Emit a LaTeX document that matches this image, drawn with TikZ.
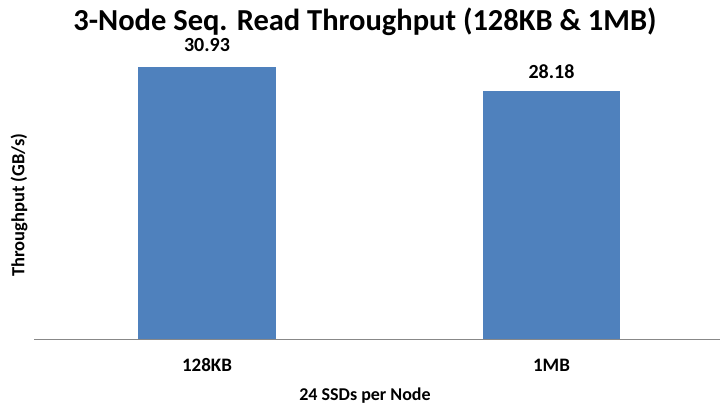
\documentclass[tikz,border=0pt]{standalone}
\usepackage{fontspec}
\setmainfont{Carlito}
\usepackage{xcolor}
\usetikzlibrary{positioning}
\definecolor{barblue}{HTML}{4F81BD}
\definecolor{axisgray}{HTML}{888888}

\begin{document}
\begin{tikzpicture}[x=1pt,y=1pt]
		\tikzset{bar/.style={fill=barblue}}
		\tikzset{val/.style={font=\bfseries\fontsize{20}{24}\selectfont,inner sep=0pt}}
		\tikzset{lab/.style={font=\bfseries\fontsize{19}{23}\selectfont,inner sep=0pt}}
		\useasboundingbox (0,0) rectangle (720,406);
		\coordinate (O) at (34,66.7);
		\coordinate (E) at (720,66.7);
		\coordinate (A) at (207,339.3);
		\coordinate (B) at (551.5,314.9);
		
		
		\fill[bar] (137.7,66.7) rectangle (276.3,339.3);
		\fill[bar] (482.7,66.7) rectangle (620.3,314.9);
		\draw[axisgray,line width=1pt] (O) -- (E);
		
		\node[val,above=15pt of A,anchor=base] (va) {30.93};
		\node[val,above=13pt of B,anchor=base] (vb) {28.18};
		\node[lab,anchor=base] (xa) at (207,34.3) {128KB};
		\node[lab,anchor=base] (xb) at (551.5,34.3) {1MB};
		\node[lab,font=\bfseries\fontsize{18}{22}\selectfont,anchor=base] (xt) at (365,5) {24 SSDs per Node};
		\node[lab,font=\bfseries\fontsize{18.5}{22}\selectfont,rotate=90] (yt) at (19,201) {Throughput (GB/s)};
		\node[font=\bfseries\fontsize{30.5}{36}\selectfont,anchor=base] (title) at (365,375) {3-Node Seq. Read Throughput (128KB \& 1MB)};
		
		\end{tikzpicture}
\end{document}
